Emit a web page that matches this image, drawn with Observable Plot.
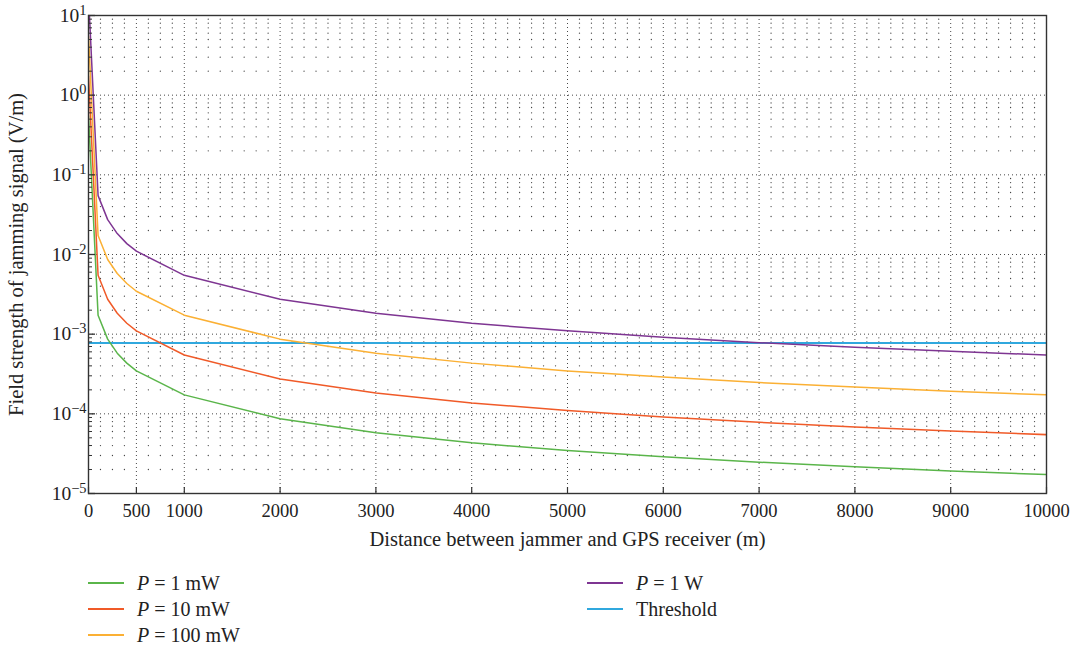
<!DOCTYPE html>
<html>
<head>
<meta charset="utf-8">
<script src="https://cdn.jsdelivr.net/npm/d3@7"></script>
<script src="https://cdn.jsdelivr.net/npm/@observablehq/plot@0.6"></script>
<style>
  body { margin: 0; background: #fff; font-family: "Liberation Serif", "Times New Roman", serif; }
  #legend { position: relative; width: 1075px; height: 90px; font-size: 20px; color: #222; }
  .item { position: absolute; display: flex; align-items: center; height: 26px; white-space: nowrap; }
  .sw { width: 36px; height: 0; border-top: 2px solid; margin-right: 13px; }
</style>
</head>
<body>
<div id="chart"></div>
<div id="legend"></div>
<script>
// ---- data ----
const distance = [0.3, 100, 200, 300, 400, 500, 1000, 2000, 3000, 4000, 5000, 6000, 7000, 8000, 9000, 10000];
const p1mW   = [0.55, 1.73e-3, 8.66e-4, 5.77e-4, 4.33e-4, 3.46e-4, 1.73e-4, 8.66e-5, 5.77e-5, 4.33e-5, 3.46e-5, 2.89e-5, 2.47e-5, 2.17e-5, 1.92e-5, 1.73e-5];
const p10mW  = [1.74, 5.48e-3, 2.74e-3, 1.83e-3, 1.37e-3, 1.10e-3, 5.48e-4, 2.74e-4, 1.83e-4, 1.37e-4, 1.10e-4, 9.13e-5, 7.82e-5, 6.85e-5, 6.09e-5, 5.48e-5];
const p100mW = [5.5, 1.73e-2, 8.66e-3, 5.77e-3, 4.33e-3, 3.46e-3, 1.73e-3, 8.66e-4, 5.77e-4, 4.33e-4, 3.46e-4, 2.89e-4, 2.47e-4, 2.17e-4, 1.92e-4, 1.73e-4];
const p1W    = [17.4, 5.48e-2, 2.74e-2, 1.83e-2, 1.37e-2, 1.10e-2, 5.48e-3, 2.74e-3, 1.83e-3, 1.37e-3, 1.10e-3, 9.13e-4, 7.82e-4, 6.85e-4, 6.09e-4, 5.48e-4];
const threshold = 7.75e-4;

const seriesKeys   = ["1mW", "10mW", "100mW", "1W"];
const seriesLabels = ["1 mW", "10 mW", "100 mW", "1 W"];
const seriesColors = ["#5ab54a", "#f05a28", "#fbb034", "#7e3592"];
const thresholdColor = "#30a8de";

const xTicks = [0, 500, 1000, 2000, 3000, 4000, 5000, 6000, 7000, 8000, 9000, 10000];
const yDecades = [1e-5, 1e-4, 1e-3, 1e-2, 1e-1, 1, 10];
const yExponents = [-5, -4, -3, -2, -1, 0, 1];
const minorMultipliers = [2, 3, 4, 5, 6, 7, 8, 9];
const xMinorStep = 125;

// ---- derived tables ----
const seriesValues = [p1mW, p10mW, p100mW, p1W];
const rows = seriesKeys.flatMap((k, s) => distance.map((d, i) => ({series: k, d, E: seriesValues[s][i]})));
const yMinor = yDecades.slice(0, -1).flatMap(dec => minorMultipliers.map(m => m * dec));
const xMinor = d3.range(xMinorStep, 10000, xMinorStep).filter(v => !xTicks.includes(v));
const minorGrid = xMinor.flatMap(x => yMinor.map(y => ({x, y})));

const expOf = v => yExponents[yDecades.indexOf(v)];

const axisColor = "#333";
const plot = Plot.plot({
  width: 1075,
  height: 560,
  marginLeft: 88,
  marginRight: 29,
  marginTop: 15,
  marginBottom: 67,
  style: {fontFamily: "'Liberation Serif', 'Times New Roman', serif", fontSize: "18px", color: "#222", background: "#fff"},
  x: {domain: [0, 10000]},
  y: {type: "log", domain: [1e-5, 10]},
  color: {domain: seriesKeys, range: seriesColors},
  marks: [
    Plot.dot(minorGrid, {x: "x", y: "y", r: 0.65, fill: "#444", stroke: null}),
    Plot.ruleY(yDecades.slice(1, -1), {stroke: axisColor, strokeDasharray: "1,3", strokeWidth: 0.9}),
    Plot.ruleX(xTicks.slice(1, -1), {stroke: axisColor, strokeDasharray: "1,3", strokeWidth: 0.9}),
    Plot.ruleY([threshold], {stroke: thresholdColor, strokeWidth: 2}),
    Plot.line(rows, {x: "d", y: "E", z: "series", stroke: "series", strokeWidth: 1.5, clip: true}),
    Plot.ruleY(yDecades, {x1: 0, x2: 0, insetRight: -7, stroke: axisColor, strokeWidth: 1.3}),
    Plot.ruleY(yMinor, {x1: 0, x2: 0, insetRight: -4, stroke: axisColor, strokeWidth: 1}),
    Plot.ruleX(xTicks, {y1: 1e-5, y2: 1e-5, insetTop: -6, stroke: axisColor, strokeWidth: 1.2}),
    Plot.frame({stroke: axisColor, strokeWidth: 1.4}),
    Plot.axisX(xTicks, {
      tickSize: 0, tickPadding: 10, fontSize: 18.5,
      tickFormat: d => String(d),
      label: "Distance between jammer and GPS receiver (m)",
      labelAnchor: "center", labelArrow: "none", labelOffset: 52
    }),
    Plot.axisY(yDecades, {
      tickSize: 0, tickPadding: 2, fontSize: 19.5,
      tickFormat: d => "10^" + expOf(d),
      label: "Field strength of jamming signal (V/m)",
      labelAnchor: "center", labelArrow: "none", labelOffset: 80
    })
  ]
});

// superscripts for the log tick labels
d3.select(plot).selectAll('g[aria-label="y-axis tick label"] text').each(function () {
  const t = d3.select(this);
  const s = t.text();
  const i = s.indexOf("^");
  if (i < 0) return;
  const base = s.slice(0, i);
  const exp = s.slice(i + 1).replace("-", "\u2212");
  t.text(base);
  t.append("tspan").attr("dy", "-0.5em").attr("font-size", "0.74em").text(exp);
});
// larger axis titles
d3.select(plot).selectAll('g[aria-label="x-axis label"] text, g[aria-label="y-axis label"] text')
  .attr("font-size", "20.5px");

document.getElementById("chart").appendChild(plot);

// legend
const legendItems = [
  {label: seriesLabels[0], color: seriesColors[0], col: 0, row: 0, p: true},
  {label: seriesLabels[1], color: seriesColors[1], col: 0, row: 1, p: true},
  {label: seriesLabels[2], color: seriesColors[2], col: 0, row: 2, p: true},
  {label: seriesLabels[3], color: seriesColors[3], col: 1, row: 0, p: true},
  {label: "Threshold", color: thresholdColor, col: 1, row: 1, p: false}
];
const colLeft = [88, 587];
const legend = d3.select("#legend");
legendItems.forEach(it => {
  const div = legend.append("div").attr("class", "item")
    .style("left", colLeft[it.col] + "px")
    .style("top", (10 + it.row * 26) + "px");
  div.append("span").attr("class", "sw").style("border-color", it.color);
  const lab = div.append("span");
  if (it.p) {
    lab.append("i").text("P");
    lab.append("span").text(" = " + it.label);
  } else {
    lab.text(it.label);
  }
});
</script>
</body>
</html>
